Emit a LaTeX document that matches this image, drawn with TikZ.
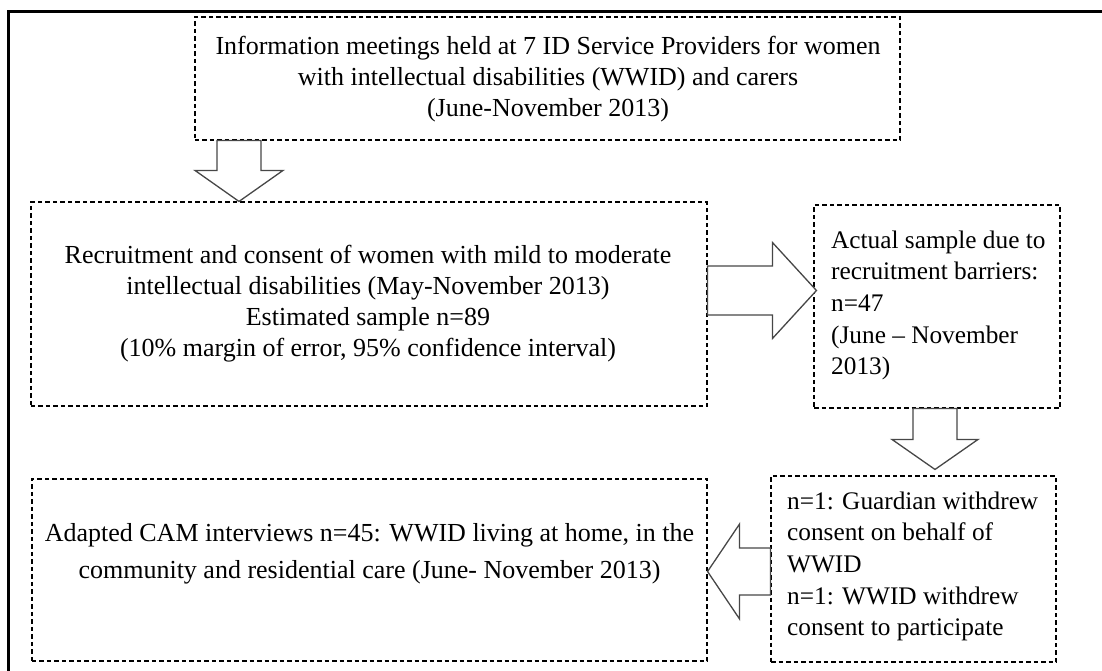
\documentclass[tikz,border=0pt]{standalone}
\usepackage{fontspec}
\setmainfont{Liberation Serif}
\usetikzlibrary{calc}

\tikzset{
  flowbox/.style={draw=black, line width=1.1bp, dash pattern=on 4.5bp off 3bp,
    rectangle, inner sep=0pt},
  flowtext/.style={inner sep=0pt, font=\fontsize{26bp}{31bp}\selectfont, text=black},
  sidetext/.style={inner sep=0pt, font=\fontsize{25.3bp}{31.6bp}\selectfont, text=black,
    align=left, anchor=west},
  blockarr/.style={draw=black!72, fill=white, line width=1.3bp, line join=miter},
  frame/.style={draw=black, line width=3bp}
}

% hollow block arrow: #1 tail, #2 tip, #3 shaft half width,
% #4 head half width, #5 head length
\newcommand{\blockarrow}[5]{%
  \coordinate (ba-s) at ($(#2)!#5!(#1)$);
  \draw[blockarr]
    ($(#1)!#3!90:(#2)$) -- ($(ba-s)!#3!90:(#2)$) -- ($(ba-s)!#4!90:(#2)$)
    -- (#2)
    -- ($(ba-s)!#4!-90:(#2)$) -- ($(ba-s)!#3!-90:(#2)$) -- ($(#1)!#3!-90:(#2)$)
    -- cycle;
}

\begin{document}
\begin{tikzpicture}[x=1bp, y=-1bp]
\useasboundingbox (0,0) rectangle (1102,671);

% page frame
\draw[frame] (8,680) -- (8,12) -- (1110,12);

% boxes
\node[flowbox, minimum width=705bp, minimum height=123bp] (b1) at (547.5,78.5) {};
\node[flowbox, minimum width=676bp, minimum height=204bp] (b2) at (369,304) {};
\node[flowbox, minimum width=246bp, minimum height=203bp] (b3) at (937,306.5) {};
\node[flowbox, minimum width=285bp, minimum height=186bp] (b4) at (913.5,569) {};
\node[flowbox, minimum width=675bp, minimum height=182bp] (b5) at (369.5,570) {};

% texts
\node[flowtext, align=center] (t1) at (548,79.5) {Information meetings held at 7 ID Service Providers for women\\with intellectual disabilities (WWID) and carers\\(June-November 2013)};
\node[flowtext, align=center] (t2) at (368,303.5) {Recruitment and consent of women with mild to moderate\\intellectual disabilities (May-November 2013)\\Estimated sample n=89\\(10\% margin of error, 95\% confidence interval)};
\node[sidetext] (t3) at (831,305.5) {Actual sample due to\\recruitment barriers:\\n=47\\(June -- November\\2013)};
\node[sidetext] (t4) at (787,566.5) {n=1: Guardian withdrew\\consent on behalf of\\WWID\\n=1: WWID withdrew\\consent to participate};
\node[flowtext, align=center, font=\fontsize{26bp}{37bp}\selectfont] (t5) at (369.5,553.5) {Adapted CAM interviews n=45: WWID living at home, in the\\community and residential care (June- November 2013)};

% arrow end points
\coordinate (a1x) at (239,0);
\coordinate (a1tail) at (a1x |- b1.south);
\coordinate (a1tip) at (a1x |- b2.north);
\coordinate (a2y) at (0,290.5);
\coordinate (a2tail) at (b2.east |- a2y);
\coordinate (a2tip) at ($(b3.west |- a2y)+(3,0)$);
\coordinate (a3x) at (935,0);
\coordinate (a3tail) at (a3x |- b3.south);
\coordinate (a3tip) at ($(a3x |- b4.north)+(0,-6)$);
\coordinate (a4y) at (0,571.5);
\coordinate (a4tail) at (b4.west |- a4y);
\coordinate (a4tip) at (b5.east |- a4y);

% connectors
\blockarrow{a1tail}{a1tip}{22bp}{44bp}{31bp}
\blockarrow{a2tail}{a2tip}{24.5bp}{48bp}{44bp}
\blockarrow{a3tail}{a3tip}{22bp}{43bp}{30bp}
\blockarrow{a4tail}{a4tip}{23.5bp}{47.5bp}{32bp}
\end{tikzpicture}
\end{document}
